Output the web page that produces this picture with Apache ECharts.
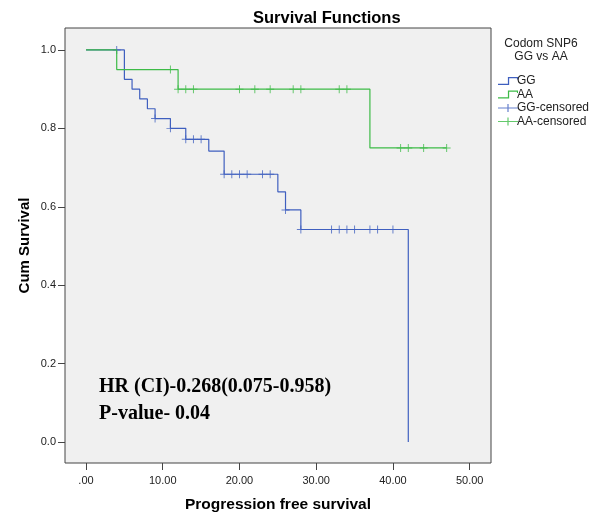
<!DOCTYPE html>
<html>
<head>
<meta charset="utf-8">
<script src="https://cdn.jsdelivr.net/npm/echarts@6/dist/echarts.min.js"></script>
<style>
  html, body { margin: 0; padding: 0; background: #fff; }
  #main { width: 594px; height: 515px; }
</style>
</head>
<body>
<div id="main"></div>
<script>
// 数据
const ggTime = [0, 5, 6, 7, 8, 9, 11, 13, 16, 18, 25, 26, 28, 42];
const ggSurv = [1, 0.925, 0.9, 0.875, 0.85, 0.825, 0.8, 0.772, 0.742, 0.683, 0.638, 0.592, 0.542, 0];
const ggCensor = [4, 9, 11, 13, 14, 15, 18, 19, 20, 21, 23, 24, 26, 28, 32, 33, 34, 35, 37, 38, 40];

const aaTime = [0, 4, 12, 37, 47];
const aaSurv = [1, 0.95, 0.9, 0.75, 0.75];
const aaCensor = [11, 12, 13, 14, 20, 22, 24, 27, 28, 33, 34, 41, 42, 44, 47];

const xTicks = [0, 10, 20, 30, 40, 50];
const yTicks = [0, 0.2, 0.4, 0.6, 0.8, 1.0];

// 阶梯函数取值（删失点落在曲线上）
function survAt(times, surv, t) {
  let s = surv[0];
  for (let i = 0; i < times.length; i++) {
    if (times[i] <= t) s = surv[i];
  }
  return s;
}

const blue = "#3f5fbf";
const green = "#3dbb47";
const plusIcon = "path://M4.4,0H5.6V4.4H10V5.6H5.6V10H4.4V5.6H0V4.4H4.4Z";
// 图例图标
const stepIcon = "path://M0,7.2H9.4V0.4H19V3H18V1.6H10.6V8.4H0Z";
const crossIcon = "path://M0,3.9H20V5.1H0Z M9.4,0H10.6V9H9.4Z";
const font = "Liberation Sans";

let myChart = echarts.init(document.getElementById("main"));
let option = {
  backgroundColor: "#fff",
  animation: false,
  title: {
    text: "Survival Functions",
    left: 248,
    top: 5,
    textStyle: { fontSize: 16.5, fontWeight: "bold", color: "#000", fontFamily: font },
  },
  legend: {
    orient: "vertical",
    left: 493,
    top: 70,
    itemWidth: 20,
    itemHeight: 8,
    itemGap: 1.5,
    symbolKeepAspect: false,
    textStyle: { fontSize: 12, lineHeight: 12, color: "#222", fontFamily: font, padding: [0, 0, 0, -6] },
    data: [
      { name: "GG", icon: stepIcon },
      { name: "AA", icon: stepIcon },
      { name: "GG-censored", icon: crossIcon },
      { name: "AA-censored", icon: crossIcon },
    ],
  },
  grid: {
    left: 65,
    top: 28,
    right: 103,
    bottom: 52,
    outerBoundsMode: "none",
    show: true,
    backgroundColor: "#f0f0f0",
    borderColor: "#444",
    borderWidth: 1,
  },
  xAxis: {
    type: "value",
    min: -2.739,
    max: 52.78,
    name: "Progression free survival",
    nameLocation: "middle",
    nameGap: 34,
    nameTextStyle: { fontSize: 15.5, fontWeight: "bold", color: "#000", fontFamily: font },
    axisLine: { show: false, onZero: false },
    splitLine: { show: false },
    axisTick: { show: true, length: 7, customValues: xTicks, lineStyle: { color: "#444" } },
    axisLabel: {
      customValues: xTicks,
      margin: 12,
      fontSize: 11,
      color: "#222",
      fontFamily: font,
      formatter: function (v) {
        return v === 0 ? ".00" : v.toFixed(2);
      },
    },
  },
  yAxis: {
    type: "value",
    min: -0.0536,
    max: 1.056,
    name: "Cum Survival",
    nameLocation: "middle",
    nameGap: 33,
    nameMoveOverlap: false,
    nameRotate: 90,
    nameTextStyle: { fontSize: 15, fontWeight: "bold", color: "#000", fontFamily: font },
    axisLine: { show: false, onZero: false },
    splitLine: { show: false },
    axisTick: { show: true, length: 7, customValues: yTicks, lineStyle: { color: "#444" } },
    axisLabel: {
      customValues: yTicks,
      margin: 9,
      fontSize: 11,
      color: "#222",
      fontFamily: font,
      formatter: function (v) {
        return v.toFixed(1);
      },
    },
  },
  graphic: [
    {
      type: "text",
      x: 541,
      y: 37,
      style: {
        text: "Codom SNP6\nGG vs AA",
        font: "12px " + font,
        fill: "#222",
        align: "center",
        lineHeight: 13,
      },
    },
    {
      type: "text",
      x: 99,
      y: 387,
      style: {
        text: "HR (CI)-0.268(0.075-0.958)",
        font: "bold 20px 'Liberation Serif'",
        fill: "#000",
        verticalAlign: "middle",
      },
    },
    {
      type: "text",
      x: 99,
      y: 414,
      style: {
        text: "P-value- 0.04",
        font: "bold 20px 'Liberation Serif'",
        fill: "#000",
        verticalAlign: "middle",
      },
    },
  ],
  series: [
    {
      name: "GG",
      type: "line",
      step: "end",
      showSymbol: false,
      color: blue,
      lineStyle: { color: blue, width: 1.2 },
      data: ggTime.map((t, i) => [t, ggSurv[i]]),
    },
    {
      name: "AA",
      type: "line",
      step: "end",
      showSymbol: false,
      color: green,
      lineStyle: { color: green, width: 1.2 },
      data: aaTime.map((t, i) => [t, aaSurv[i]]),
    },
    {
      name: "GG-censored",
      type: "scatter",
      symbol: plusIcon,
      symbolSize: 8,
      color: blue,
      data: ggCensor.map((t) => [t, survAt(ggTime, ggSurv, t)]),
    },
    {
      name: "AA-censored",
      type: "scatter",
      symbol: plusIcon,
      symbolSize: 8,
      color: green,
      data: aaCensor.map((t) => [t, survAt(aaTime, aaSurv, t)]),
    },
  ],
};

myChart.setOption(option);
window.addEventListener("resize", function () {
  myChart.resize();
});
</script>
</body>
</html>
